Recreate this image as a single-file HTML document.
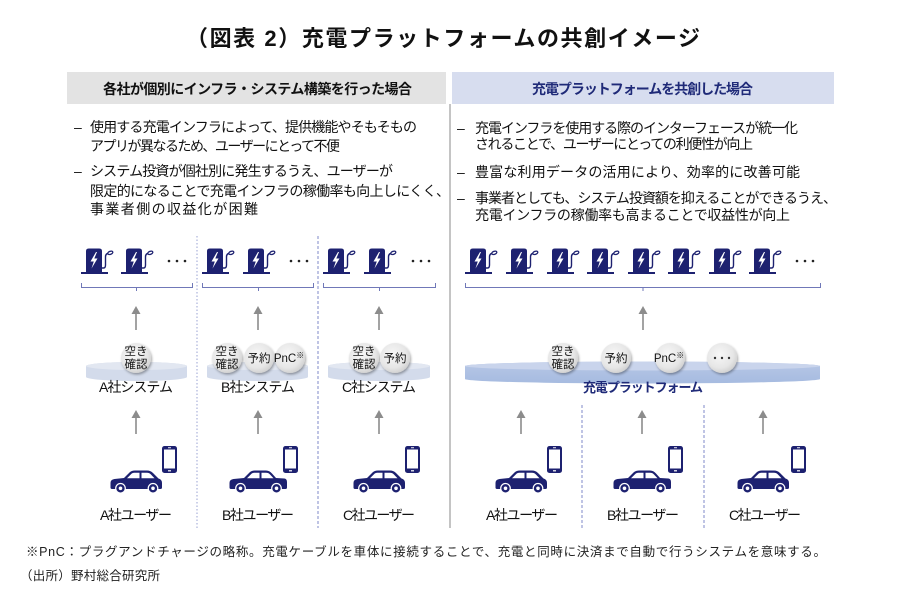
<!DOCTYPE html>
<html><head><meta charset="utf-8">
<style>
html,body{margin:0;padding:0;background:#fff;}
svg{display:block;}
text{font-family:"Liberation Sans","Noto Sans CJK JP",sans-serif;fill:#111;}
.b{font-weight:bold;}
</style></head>
<body>
<svg width="900" height="607" viewBox="0 0 900 607" xmlns="http://www.w3.org/2000/svg">
<defs>
  <g id="chg">
    <rect x="0" y="24" width="27" height="2" fill="#1d2170"/>
    <path d="M5 24 V3 Q5 0.5 8 0.5 H18 Q21 0.5 21 3 V24 Z" fill="#1d2170"/>
    <path d="M15 4 L9.5 13.5 H12.8 L10.5 20.5 L16.5 10.5 H13.3 L16 4 Z" fill="#fff"/>
    <path d="M21 20 H22.5 Q24.5 20 24.5 17 V9 Q24.5 5.5 27.5 5.5" fill="none" stroke="#1d2170" stroke-width="1.4"/>
    <ellipse cx="29.3" cy="4.8" rx="2.6" ry="1.5" transform="rotate(-20 29.3 4.8)" fill="none" stroke="#1d2170" stroke-width="1.3"/>
  </g>
  <g id="car1">
    <path d="M0.5 17.5 L0.5 13 Q0.5 9.5 4.5 9 L14 8 L19.5 2.5 Q21.5 0.5 25 0.5 L37 0.5 Q40.5 0.5 43 3 L48.5 8.5 Q52 9.5 52 13 L52 17.5 Q52 19 50.5 19 L2 19 Q0.5 19 0.5 17.5 Z" fill="#1d2170"/>
    <path d="M17 8.3 L21.5 3.8 Q22.6 2.8 24.2 2.8 L29.5 2.8 L29.5 8.3 Z" fill="#fff"/>
    <path d="M31.5 2.8 L37 2.8 Q39.2 2.8 40.8 4.4 L44.5 8.3 L31.5 8.3 Z" fill="#fff"/>
    <circle cx="10.5" cy="18.3" r="4.8" fill="#1d2170" stroke="#fff" stroke-width="1.2"/>
    <circle cx="10.5" cy="18.3" r="1.8" fill="#fff"/>
    <circle cx="43" cy="18.3" r="4.8" fill="#1d2170" stroke="#fff" stroke-width="1.2"/>
    <circle cx="43" cy="18.3" r="1.8" fill="#fff"/>
  </g>
  <g id="car2">
    <path d="M0.5 17.5 L0.5 13 Q0.5 9.5 4.5 9 L15 8 L20.5 2.5 Q22.5 0.5 26 0.5 L37 0.5 Q40.5 0.5 43 3.5 L47 8 L55.5 8.5 Q58 9 58 12 L58 17.5 Q58 19 56.5 19 L2 19 Q0.5 19 0.5 17.5 Z" fill="#1d2170"/>
    <path d="M18 8.3 L22.5 3.8 Q23.6 2.8 25.2 2.8 L30.5 2.8 L30.5 8.3 Z" fill="#fff"/>
    <path d="M32.5 2.8 L37 2.8 Q39.5 2.8 41 4.5 L44.5 8.3 L32.5 8.3 Z" fill="#fff"/>
    <circle cx="11.5" cy="18.3" r="4.8" fill="#1d2170" stroke="#fff" stroke-width="1.2"/>
    <circle cx="11.5" cy="18.3" r="1.8" fill="#fff"/>
    <circle cx="47.5" cy="18.3" r="4.8" fill="#1d2170" stroke="#fff" stroke-width="1.2"/>
    <circle cx="47.5" cy="18.3" r="1.8" fill="#fff"/>
  </g>
  <g id="phone">
    <rect x="0" y="0" width="15" height="27" rx="2.5" fill="#1d2170"/>
    <rect x="2" y="3.5" width="11" height="19" fill="#fff"/>
    <rect x="6" y="1.3" width="3" height="0.9" fill="#fff"/>
    <rect x="6" y="24.2" width="3" height="1.2" fill="#fff"/>
  </g>
  <radialGradient id="bub" cx="0.42" cy="0.38" r="0.65">
    <stop offset="0" stop-color="#f7f7f7"/>
    <stop offset="0.7" stop-color="#e6e6e6"/>
    <stop offset="1" stop-color="#cfcfcf"/>
  </radialGradient>
  <filter id="sh" x="-30%" y="-30%" width="170%" height="170%">
    <feDropShadow dx="1" dy="1.5" stdDeviation="1.2" flood-color="#000" flood-opacity="0.35"/>
  </filter>
  <linearGradient id="plat" x1="0" y1="0" x2="0" y2="1">
    <stop offset="0" stop-color="#b7c7e6"/>
    <stop offset="1" stop-color="#a6bbe0"/>
  </linearGradient>
  <g id="arrTop">
    <line x1="0" y1="312" x2="0" y2="330" stroke="#8c8c8c" stroke-width="1.6"/>
    <path d="M0 306 L-4.5 314 L4.5 314 Z" fill="#8c8c8c"/>
  </g>
  <g id="arrBot">
    <line x1="0" y1="416" x2="0" y2="434" stroke="#8c8c8c" stroke-width="1.6"/>
    <path d="M0 410 L-4.5 418 L4.5 418 Z" fill="#8c8c8c"/>
  </g>
</defs>

<!-- Title -->
<text class="b" x="186" y="46" font-size="22" textLength="514" lengthAdjust="spacing">（図表 2）充電プラットフォームの共創イメージ</text>

<!-- Headers -->
<rect x="67" y="72" width="379" height="32" fill="#e3e3e3"/>
<text class="b" x="103" y="94" font-size="14" textLength="309" lengthAdjust="spacing">各社が個別にインフラ・システム構築を行った場合</text>
<rect x="452" y="72" width="382" height="32" fill="#d7ddef"/>
<text class="b" x="532" y="94" font-size="14" textLength="221" lengthAdjust="spacing" style="fill:#1f2a78">充電プラットフォームを共創した場合</text>

<!-- Center gray divider -->
<line x1="450" y1="104" x2="450" y2="528" stroke="#c4c4c4" stroke-width="2"/>

<!-- Left bullets -->
<g font-size="14">
<text x="74" y="132">–</text>
<text x="90" y="132" textLength="327" lengthAdjust="spacing">使用する充電インフラによって、提供機能やそもそもの</text>
<text x="90" y="151" textLength="250" lengthAdjust="spacing">アプリが異なるため、ユーザーにとって不便</text>
<text x="74" y="176">–</text>
<text x="90" y="176" textLength="303" lengthAdjust="spacing">システム投資が個社別に発生するうえ、ユーザーが</text>
<text x="90" y="196" textLength="360" lengthAdjust="spacing">限定的になることで充電インフラの稼働率も向上しにくく、</text>
<text x="90" y="214" textLength="168" lengthAdjust="spacing">事業者側の収益化が困難</text>
</g>

<!-- Right bullets -->
<g font-size="14">
<text x="457" y="133">–</text>
<text x="475" y="133" textLength="323" lengthAdjust="spacing">充電インフラを使用する際のインターフェースが統一化</text>
<text x="475" y="149" textLength="278" lengthAdjust="spacing">されることで、ユーザーにとっての利便性が向上</text>
<text x="457" y="177">–</text>
<text x="475" y="177" textLength="325" lengthAdjust="spacing">豊富な利用データの活用により、効率的に改善可能</text>
<text x="457" y="203">–</text>
<text x="475" y="203" textLength="362" lengthAdjust="spacing">事業者としても、システム投資額を抑えることができるうえ、</text>
<text x="475" y="220" textLength="315" lengthAdjust="spacing">充電インフラの稼働率も高まることで収益性が向上</text>
</g>

<!-- Dividers -->
<line x1="197" y1="236" x2="197" y2="528" stroke="#aab2da" stroke-width="1.2" stroke-dasharray="1.5 2"/>
<line x1="318" y1="236" x2="318" y2="528" stroke="#7f88c8" stroke-width="1" stroke-dasharray="3 2"/>
<line x1="582" y1="405" x2="582" y2="528" stroke="#7f88c8" stroke-width="1" stroke-dasharray="3 2"/>
<line x1="704" y1="405" x2="704" y2="528" stroke="#7f88c8" stroke-width="1" stroke-dasharray="3 2"/>

<!-- Chargers -->
<use href="#chg" transform="translate(81,248)"/>
<use href="#chg" transform="translate(121,248)"/>
<use href="#chg" transform="translate(202,248)"/>
<use href="#chg" transform="translate(243,248)"/>
<use href="#chg" transform="translate(323,248)"/>
<use href="#chg" transform="translate(364,248)"/>
<use href="#chg" transform="translate(465,248)"/>
<use href="#chg" transform="translate(506,248)"/>
<use href="#chg" transform="translate(547,248)"/>
<use href="#chg" transform="translate(587,248)"/>
<use href="#chg" transform="translate(628,248)"/>
<use href="#chg" transform="translate(668,248)"/>
<use href="#chg" transform="translate(709,248)"/>
<use href="#chg" transform="translate(749,248)"/>
<g fill="#222">
<circle cx="169" cy="261" r="1.3"/><circle cx="177" cy="261" r="1.3"/><circle cx="185" cy="261" r="1.3"/>
<circle cx="291" cy="261" r="1.3"/><circle cx="299" cy="261" r="1.3"/><circle cx="307" cy="261" r="1.3"/>
<circle cx="413" cy="261" r="1.3"/><circle cx="421" cy="261" r="1.3"/><circle cx="429" cy="261" r="1.3"/>
<circle cx="797" cy="261" r="1.3"/><circle cx="805" cy="261" r="1.3"/><circle cx="813" cy="261" r="1.3"/>
</g>

<!-- Brackets -->
<g fill="none" stroke="#7078b8" stroke-width="1">
<path d="M81.5 283 V287.5 H192.5 V283 M136.5 287.5 V291"/>
<path d="M202.5 283 V287.5 H313.5 V283 M258.5 287.5 V291"/>
<path d="M323.5 283 V287.5 H435.5 V283 M379.5 287.5 V291"/>
<path d="M465.5 283 V287.5 H820.5 V283 M643 287.5 V291"/>
</g>

<!-- Top arrows -->
<use href="#arrTop" transform="translate(136,0)"/>
<use href="#arrTop" transform="translate(258,0)"/>
<use href="#arrTop" transform="translate(379,0)"/>
<use href="#arrTop" transform="translate(643,0)"/>

<!-- Left discs -->
<g>
<path d="M86 366 A50.5 4 0 0 1 187 366 V377 A50.5 4 0 0 1 86 377 Z" fill="#d3dbeb"/>
<ellipse cx="136.5" cy="366" rx="50.5" ry="4" fill="#e2e7f1"/>
<path d="M207 366 A50.5 4 0 0 1 308 366 V377 A50.5 4 0 0 1 207 377 Z" fill="#d3dbeb"/>
<ellipse cx="257.5" cy="366" rx="50.5" ry="4" fill="#e2e7f1"/>
<path d="M328 366 A51 4 0 0 1 430 366 V377 A51 4 0 0 1 328 377 Z" fill="#d3dbeb"/>
<ellipse cx="379" cy="366" rx="51" ry="4" fill="#e2e7f1"/>
</g>

<!-- Platform -->
<path d="M465 366 A177.5 4.5 0 0 1 820 366 V379 A177.5 4.5 0 0 1 465 379 Z" fill="url(#plat)"/>
<ellipse cx="642.5" cy="366" rx="177.5" ry="4.5" fill="#c9d4ec"/>

<!-- Bubbles -->
<g filter="url(#sh)" fill="url(#bub)">
<circle cx="136" cy="358" r="15"/>
<circle cx="227" cy="358" r="15"/>
<circle cx="259" cy="358" r="15"/>
<circle cx="290" cy="358" r="15"/>
<circle cx="364" cy="358" r="15"/>
<circle cx="395" cy="358" r="15"/>
<circle cx="563" cy="358" r="15"/>
<circle cx="616" cy="358" r="15"/>
<circle cx="670" cy="358" r="15"/>
<circle cx="722" cy="358" r="15"/>
</g>
<g font-size="11.5" text-anchor="middle" style="fill:#222">
<text x="136" y="355">空き</text><text x="136" y="368">確認</text>
<text x="227" y="355">空き</text><text x="227" y="368">確認</text>
<text x="259" y="362">予約</text>
<text x="289" y="362">PnC<tspan font-size="8" dy="-4">※</tspan></text>
<text x="364" y="355">空き</text><text x="364" y="368">確認</text>
<text x="395" y="362">予約</text>
<text x="563" y="355">空き</text><text x="563" y="368">確認</text>
<text x="616" y="362">予約</text>
<text x="669" y="362">PnC<tspan font-size="8" dy="-4">※</tspan></text>
</g>
<g fill="#333">
<circle cx="715" cy="358" r="1.2"/><circle cx="722" cy="358" r="1.2"/><circle cx="729" cy="358" r="1.2"/>
</g>

<!-- System labels -->
<g font-size="14" text-anchor="middle">
<text x="136" y="392" textLength="74" lengthAdjust="spacing">A社システム</text>
<text x="258" y="392" textLength="74" lengthAdjust="spacing">B社システム</text>
<text x="379" y="392" textLength="74" lengthAdjust="spacing">C社システム</text>
</g>
<text class="b" x="643" y="392" font-size="13" text-anchor="middle" textLength="120" lengthAdjust="spacing" style="fill:#1f2a78">充電プラットフォーム</text>

<!-- Bottom arrows -->
<use href="#arrBot" transform="translate(136,0)"/>
<use href="#arrBot" transform="translate(258,0)"/>
<use href="#arrBot" transform="translate(379,0)"/>
<use href="#arrBot" transform="translate(521,0)"/>
<use href="#arrBot" transform="translate(642,0)"/>
<use href="#arrBot" transform="translate(763,0)"/>

<!-- Cars & phones -->
<use href="#car1" transform="translate(110,470)"/>
<use href="#phone" transform="translate(162,446)"/>
<use href="#car2" transform="translate(229,470)"/>
<use href="#phone" transform="translate(283,446)"/>
<use href="#car1" transform="translate(353,470)"/>
<use href="#phone" transform="translate(405,446)"/>
<use href="#car1" transform="translate(495,470)"/>
<use href="#phone" transform="translate(547,446)"/>
<use href="#car2" transform="translate(613,470)"/>
<use href="#phone" transform="translate(668,446)"/>
<use href="#car1" transform="translate(737,470)"/>
<use href="#phone" transform="translate(791,446)"/>

<!-- User labels -->
<g font-size="14" text-anchor="middle">
<text x="136" y="520" textLength="72" lengthAdjust="spacing">A社ユーザー</text>
<text x="258" y="520" textLength="72" lengthAdjust="spacing">B社ユーザー</text>
<text x="379" y="520" textLength="72" lengthAdjust="spacing">C社ユーザー</text>
<text x="522" y="520" textLength="72" lengthAdjust="spacing">A社ユーザー</text>
<text x="643" y="520" textLength="72" lengthAdjust="spacing">B社ユーザー</text>
<text x="765" y="520" textLength="72" lengthAdjust="spacing">C社ユーザー</text>
</g>

<!-- Footnotes -->
<text x="26" y="556" font-size="12.5" textLength="800" lengthAdjust="spacing" style="fill:#222">※PnC：プラグアンドチャージの略称。充電ケーブルを車体に接続することで、充電と同時に決済まで自動で行うシステムを意味する。</text>
<text x="20" y="580" font-size="12.5" textLength="140" lengthAdjust="spacing" style="fill:#222">（出所）野村総合研究所</text>
</svg>
</body></html>
